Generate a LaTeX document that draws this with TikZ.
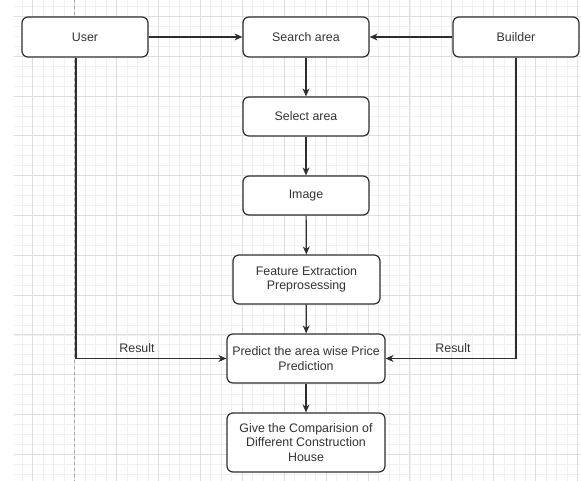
\documentclass[tikz,border=0pt]{standalone}
\usepackage{fontspec}
\setmainfont{Liberation Sans}
\usetikzlibrary{arrows.meta}
\definecolor{gridlo}{HTML}{F1F1F1}
\definecolor{gridhi}{HTML}{DEDEDE}
\definecolor{edge}{HTML}{2E2E2E}
\definecolor{ink}{HTML}{333333}
\begin{document}
\begin{tikzpicture}[x=1pt,y=-1pt,
  box/.style={draw=edge,line width=1.2pt,rounded corners=6pt,fill=white,text=ink,
    align=center,inner sep=0pt,minimum width=126pt,minimum height=40pt,
    font=\fontsize{12.4}{14.2}\selectfont},
  link/.style={edge,line width=1.2pt,-{Stealth[length=8pt,width=7pt,inset=2.5pt]}},
  tag/.style={text=ink,font=\fontsize{12.4}{14.2}\selectfont}]
  \useasboundingbox (0,0) rectangle (581,481);
  % background grid and page break
  \begin{scope}
    \clip (14,0) rectangle (581,481);
    \foreach \k in {-1,...,52}{
      \draw[gridlo,line width=0.6pt] ({32.7+10.475*\k},0) -- ++(0,481);}
    \foreach \k in {-2,...,48}{
      \draw[gridlo,line width=0.6pt] (0,{16.4+9.95*\k}) -- ++(581,0);}
    \foreach \k in {-1,...,13}{
      \draw[gridhi,line width=0.7pt] ({32.7+41.9*\k},0) -- ++(0,481);}
    \foreach \k in {-1,...,12}{
      \draw[gridhi,line width=0.7pt] (0,{16.4+39.8*\k}) -- ++(581,0);}
  \end{scope}
  \draw[gray!70,dashed,line width=0.6pt] (74,0) -- (74,481);
  % boxes
  \node[box] (user) at (85,37) {User};
  \node[box] (search) at (306,37) {Search area};
  \node[box] (builder) at (516,37) {Builder};
  \node[box,minimum height=39pt] (select) at (306,116.5) {Select area};
  \node[box,minimum height=39pt] (image) at (306,195.5) {Image};
  \node[box,minimum width=147pt,minimum height=49pt] (feature) at (306.5,279.5)
       {Feature Extraction\\Preprosessing};
  \node[box,minimum width=158pt,minimum height=49pt] (predict) at (306,358.5)
       {Predict the area wise Price\\Prediction};
  \node[box,minimum width=158pt,minimum height=59pt] (compare) at (306,442.5)
       {Give the Comparision of\\Different Construction\\House};
  % connectors
  \draw[link] (user) -- (search);
  \draw[link] (builder) -- (search);
  \draw[link,line width=1.8pt] (search) -- (select);
  \draw[link] (select) -- (image);
  \draw[link] (image) -- (feature);
  \draw[link] (feature) -- (predict);
  \draw[link] (predict) -- (compare);
  \draw[link] ([xshift=-9pt]user.south) |- (predict.west);
  \draw[link] (builder.south) |- (predict.east);
  \node[tag] (resl) at (137,348) {Result};
  \node[tag] (resr) at (453,348) {Result};
\end{tikzpicture}
\end{document}
